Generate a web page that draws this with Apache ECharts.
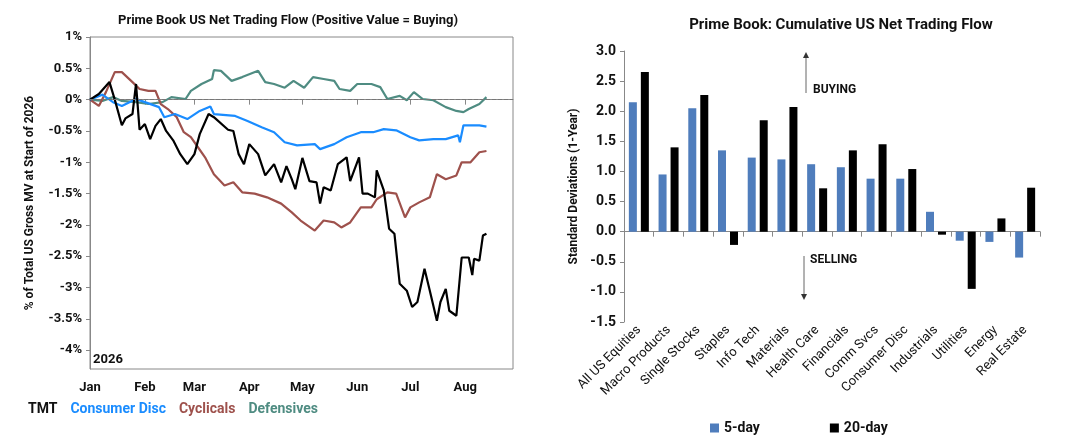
<!DOCTYPE html>
<html>
<head>
<meta charset="utf-8">
<script src="https://cdn.jsdelivr.net/npm/echarts@6/dist/echarts.min.js"></script>
<style>html,body{margin:0;padding:0;background:#fff}#chart{width:1080px;height:446px}</style>
</head>
<body>
<div id="chart"></div>
<script>
// left chart: [day of year, % of gross MV]
var monthDays = [0, 31, 59, 90, 120, 151, 181, 212];
var monthNames = ['Jan', 'Feb', 'Mar', 'Apr', 'May', 'Jun', 'Jul', 'Aug'];
var yTicks = [1, 0.5, 0, -0.5, -1, -1.5, -2, -2.5, -3, -3.5, -4];

var tmt = [[0,0],[5,0.09],[11,0.28],[14,0],[18,-0.41],[20,-0.3],[24,-0.23],[26,0.25],[28,-0.48],[31,-0.39],[34,-0.63],[37,-0.42],[40,-0.31],[43,-0.5],[47,-0.65],[51,-0.87],[55,-1.03],[59,-0.87],[62,-0.55],[67,-0.23],[70,-0.28],[78,-0.48],[81,-0.5],[84,-0.87],[87,-1.03],[90,-0.71],[95,-0.87],[99,-1.21],[104,-1.03],[108,-1.32],[111,-1.06],[114,-1.27],[116,-1.43],[120,-0.93],[124,-1.3],[128,-1.32],[130,-1.66],[132,-1.4],[136,-1.45],[140,-1.03],[145,-0.92],[147,-1.3],[152,-0.92],[154,-1.5],[157,-1.5],[161,-1.56],[162,-1.13],[166,-1.45],[169,-2.06],[172,-2.14],[175,-2.94],[179,-3.05],[182,-3.31],[185,-3.23],[189,-2.7],[192,-3.05],[196,-3.53],[198,-3.23],[201,-3.02],[203,-3.37],[207,-3.45],[210,-2.52],[214,-2.52],[216,-2.8],[217,-2.54],[220,-2.57],[222,-2.17],[224,-2.14]];
var consDisc = [[0,0],[7,0.08],[13,-0.04],[18,-0.1],[26,0.01],[31,-0.04],[39,-0.12],[42,-0.28],[48,-0.23],[55,-0.31],[62,-0.18],[68,-0.11],[70,-0.23],[82,-0.26],[89,-0.34],[97,-0.44],[104,-0.52],[110,-0.68],[117,-0.73],[127,-0.71],[130,-0.79],[138,-0.71],[145,-0.6],[153,-0.52],[160,-0.52],[166,-0.47],[173,-0.49],[181,-0.6],[186,-0.65],[194,-0.63],[201,-0.63],[208,-0.57],[209,-0.68],[211,-0.41],[217,-0.41],[220,-0.41],[224,-0.43]];
var cyclicals = [[0,0],[5,-0.1],[9,0.12],[14,0.44],[18,0.44],[24,0.28],[28,0.17],[33,0.14],[37,0.14],[40,-0.07],[44,-0.15],[49,-0.28],[53,-0.52],[57,-0.6],[61,-0.76],[65,-0.92],[70,-1.19],[76,-1.37],[81,-1.32],[86,-1.48],[93,-1.5],[100,-1.56],[108,-1.66],[114,-1.8],[119,-1.93],[127,-2.09],[132,-1.93],[138,-1.96],[142,-2.04],[147,-1.96],[153,-1.72],[159,-1.72],[162,-1.59],[168,-1.48],[173,-1.5],[178,-1.88],[181,-1.72],[186,-1.64],[192,-1.56],[196,-1.19],[201,-1.27],[207,-1.21],[210,-1.0],[215,-1.0],[220,-0.84],[224,-0.82]];
var defensives = [[0,0],[7,-0.02],[13,0.04],[18,-0.02],[26,-0.04],[33,-0.07],[41,-0.04],[46,0.04],[54,0.01],[57,0.14],[63,0.25],[69,0.33],[70,0.47],[74,0.46],[80,0.3],[86,0.36],[95,0.46],[99,0.28],[104,0.25],[110,0.19],[115,0.3],[121,0.19],[126,0.36],[132,0.33],[138,0.3],[141,0.17],[147,0.14],[151,0.25],[159,0.25],[164,0.2],[168,0.01],[175,0.06],[179,-0.01],[183,0.12],[188,0.01],[194,-0.01],[201,-0.12],[207,-0.18],[211,-0.2],[214,-0.15],[220,-0.07],[224,0.04]];

// right chart
var sectors = ['All US Equities', 'Macro Products', 'Single Stocks', 'Staples', 'Info Tech', 'Materials', 'Health Care', 'Financials', 'Comm Svcs', 'Consumer Disc', 'Industrials', 'Utilities', 'Energy', 'Real Estate'];
var day5 = [2.15, 0.95, 2.05, 1.35, 1.23, 1.2, 1.12, 1.07, 0.88, 0.88, 0.33, -0.15, -0.17, -0.43];
var day20 = [2.65, 1.4, 2.27, -0.22, 1.85, 2.07, 0.72, 1.35, 1.45, 1.04, -0.05, -0.95, 0.22, 0.73];

var FONT = 'Roboto';
var chart = echarts.init(document.getElementById('chart'));

function lineSeries(name, data, color) {
    return {name: name, type: 'line', data: data, symbol: 'none', xAxisIndex: 0, yAxisIndex: 0,
        lineStyle: {color: color, width: 2.2}, itemStyle: {color: color}};
}

var s0 = lineSeries('Defensives', defensives, '#4f8c82');
s0.markLine = {symbol: 'none', silent: true, label: {show: false},
    lineStyle: {color: '#777', type: 'dashed', width: 1}, data: [{yAxis: 0}]};

chart.setOption({
    animation: false,
    textStyle: {fontFamily: FONT},
    title: [
        {text: 'Prime Book US Net Trading Flow (Positive Value = Buying)', left: 283, top: 9, textAlign: 'center',
            textStyle: {fontSize: 13, fontWeight: 'bold', color: '#111'}},
        {text: 'Prime Book: Cumulative US Net Trading Flow', left: 836, top: 13, textAlign: 'center',
            textStyle: {fontSize: 15, fontWeight: 'bold', color: '#111'}}
    ],
    legend: [
        {left: 18, top: 397, icon: 'none', itemGap: 8, itemWidth: 0,
            textStyle: {fontSize: 14, fontWeight: 'bold'},
            data: [
                {name: 'TMT', textStyle: {color: '#111'}},
                {name: 'Consumer Disc', textStyle: {color: '#1a8cff'}},
                {name: 'Cyclicals', textStyle: {color: '#9e514c'}},
                {name: 'Defensives', textStyle: {color: '#4f8c82'}}
            ]},
        {left: 705, top: 416, itemGap: 70, itemWidth: 9, itemHeight: 9, icon: 'rect',
            textStyle: {fontSize: 14, fontWeight: 'bold', color: '#111'},
            data: ['5-day', '20-day']}
    ],
    grid: [
        {left: 90, right: 567, top: 37, bottom: 77, show: true, borderColor: '#888', borderWidth: 1},
        {left: 624, right: 40, top: 51, bottom: 124}
    ],
    xAxis: [
        {type: 'value', gridIndex: 0, min: 0, max: 239,
            axisLine: {lineStyle: {color: '#888'}},
            axisTick: {customValues: monthDays, length: 5, lineStyle: {color: '#888'}},
            axisLabel: {customValues: monthDays, fontSize: 13, fontWeight: 'bold', color: '#111', margin: 12,
                formatter: function (v) { return monthNames[monthDays.indexOf(v)]; }},
            splitLine: {show: false}},
        {type: 'category', gridIndex: 1, data: sectors,
            axisLine: {onZero: true, lineStyle: {color: '#888'}},
            axisTick: {show: true, lineStyle: {color: '#888'}},
            axisLabel: {rotate: 45, interval: 0, fontSize: 13, color: '#111', margin: 6}}
    ],
    yAxis: [
        {type: 'value', gridIndex: 0, min: -4.3, max: 1,
            name: '% of Total US Gross MV at Start of 2026', nameLocation: 'middle', nameGap: 54,
            nameTextStyle: {fontSize: 12, fontWeight: 'bold', color: '#111'},
            axisLine: {show: true, lineStyle: {color: '#888'}},
            axisTick: {show: true, customValues: yTicks, length: 4, lineStyle: {color: '#888'}},
            axisLabel: {customValues: yTicks, fontSize: 13, fontWeight: 'bold', color: '#111',
                formatter: function (v) { return Math.round(v * 10) / 10 + '%'; }},
            splitLine: {show: false}},
        {type: 'value', gridIndex: 1, min: -1.5, max: 3, interval: 0.5,
            name: 'Standard Deviations (1-Year)', nameLocation: 'middle', nameGap: 44,
            nameTextStyle: {fontSize: 12, fontWeight: 'bold', color: '#111'},
            axisLine: {show: true, lineStyle: {color: '#888'}},
            axisTick: {show: true, length: 4, lineStyle: {color: '#888'}},
            axisLabel: {fontSize: 14, fontWeight: 'bold', color: '#111',
                formatter: function (v) { return v.toFixed(1); }},
            splitLine: {show: false}}
    ],
    series: [
        s0,
        lineSeries('Cyclicals', cyclicals, '#9e514c'),
        lineSeries('Consumer Disc', consDisc, '#1a8cff'),
        lineSeries('TMT', tmt, '#000'),
        {name: '5-day', type: 'bar', xAxisIndex: 1, yAxisIndex: 1, data: day5, barWidth: 8, barGap: '50%',
            itemStyle: {color: '#4f7dbc'}},
        {name: '20-day', type: 'bar', xAxisIndex: 1, yAxisIndex: 1, data: day20, barWidth: 8,
            itemStyle: {color: '#000'}}
    ],
    graphic: [
        {type: 'text', left: 93, top: 353, style: {text: '2026', fontSize: 13, fontWeight: 'bold', fill: '#111', fontFamily: FONT}},
        {type: 'line', shape: {x1: 806, y1: 93, x2: 806, y2: 56}, style: {stroke: '#666', lineWidth: 1}},
        {type: 'polygon', shape: {points: [[803, 58], [809, 58], [806, 52]]}, style: {fill: '#333'}},
        {type: 'text', left: 813, top: 84, style: {text: 'BUYING', fontSize: 12, fontWeight: 'bold', fill: '#111', fontFamily: FONT}},
        {type: 'line', shape: {x1: 804, y1: 256, x2: 804, y2: 296}, style: {stroke: '#666', lineWidth: 1}},
        {type: 'polygon', shape: {points: [[801, 294], [807, 294], [804, 300]]}, style: {fill: '#333'}},
        {type: 'text', left: 810, top: 254, style: {text: 'SELLING', fontSize: 12, fontWeight: 'bold', fill: '#111', fontFamily: FONT}}
    ]
});
</script>
</body>
</html>
